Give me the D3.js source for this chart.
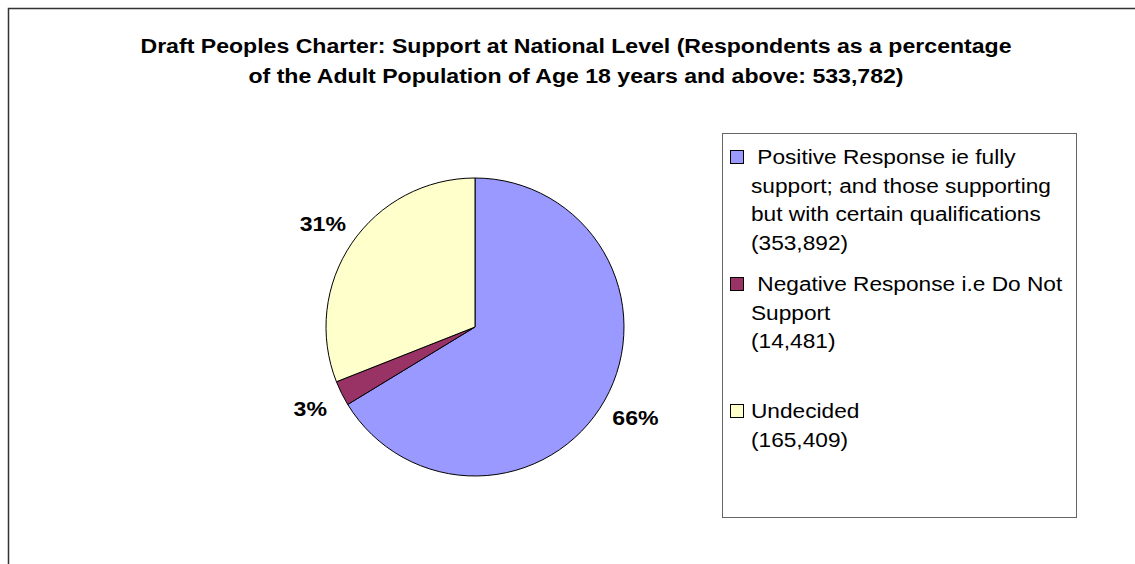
<!DOCTYPE html>
<html>
<head>
<meta charset="utf-8">
<script src="https://cdn.jsdelivr.net/npm/d3@7/dist/d3.min.js"></script>
<style>
  body { margin: 0; background: #fff; }
  text { font-family: "Liberation Sans", Arial, sans-serif; }
</style>
</head>
<body>
<script>
// data
const categories = ["Positive", "Negative", "Undecided"]
const values = [353892, 14481, 165409]
const colors = ["#9999ff", "#993366", "#ffffcc"]
const legendLines = [
  [" Positive Response ie fully", "support; and those supporting", "but with certain qualifications", "(353,892)"],
  [" Negative Response i.e Do Not", "Support", "(14,481)"],
  ["Undecided", "(165,409)"]
]
const titleLines = [
  "Draft Peoples Charter: Support at National Level (Respondents as a percentage",
  "of the Adult Population of Age 18 years and above: 533,782)"
]

const w = 1135
const h = 564
const cx = 475, cy = 327, r = 149
const labelR = 184
const fs = 21

let svg = d3.select("body").append("svg").attr("width", w).attr("height", h)

// outer chart frame (only left and top show in the picture)
svg.append("rect")
  .attr("x", 8.5).attr("y", 8.5)
  .attr("width", w + 20).attr("height", h + 20)
  .attr("fill", "none").attr("stroke", "#333").attr("stroke-width", 1.5)

// the original font renders a bit wider, so stretch x a little
function addText(parent, x, y, str, sx) {
  return parent.append("text")
    .attr("transform", `translate(${x},${y}) scale(${sx},1)`)
    .attr("font-size", fs)
    .attr("xml:space", "preserve")
    .style("white-space", "pre")
    .text(str)
}

// title
titleLines.forEach((t, i) => {
  addText(svg, 576, 53 + i * 30, t, 1.1)
    .attr("text-anchor", "middle")
    .attr("font-weight", "bold")
})

let pie = d3.pie().sort(null).value(d => d)
let arcs = pie(values)
let arc = d3.arc().innerRadius(0).outerRadius(r)
let total = d3.sum(values)

let g = svg.append("g").attr("transform", `translate(${cx},${cy})`)
g.selectAll("path")
  .data(arcs)
  .enter()
  .append("path")
  .attr("d", arc)
  .attr("fill", (d, i) => colors[i])
  .attr("stroke", "#000")
  .attr("stroke-width", 1)

arcs.forEach(d => {
  let a = (d.startAngle + d.endAngle) / 2
  addText(g, Math.sin(a) * labelR, -Math.cos(a) * labelR, Math.round(d.value / total * 100) + "%", 1.1)
    .attr("text-anchor", "middle")
    .attr("dy", "0.35em")
    .attr("font-weight", "bold")
})

// legend
let lx = 722, ly = 133
svg.append("rect")
  .attr("x", lx + 0.5).attr("y", ly + 0.5)
  .attr("width", 354).attr("height", 384)
  .attr("fill", "#fff").attr("stroke", "#666").attr("stroke-width", 1)

const lineH = 28.5
const entryTop = [157, 284, 411]
categories.forEach((c, i) => {
  svg.append("rect")
    .attr("x", 730.5).attr("y", entryTop[i] - 6.5)
    .attr("width", 13).attr("height", 13)
    .attr("fill", colors[i]).attr("stroke", "#000").attr("stroke-width", 1)
  legendLines[i].forEach((line, j) => {
    addText(svg, 751, entryTop[i] + j * lineH, line, 1.08).attr("dy", "0.35em")
  })
})
</script>
</body>
</html>
